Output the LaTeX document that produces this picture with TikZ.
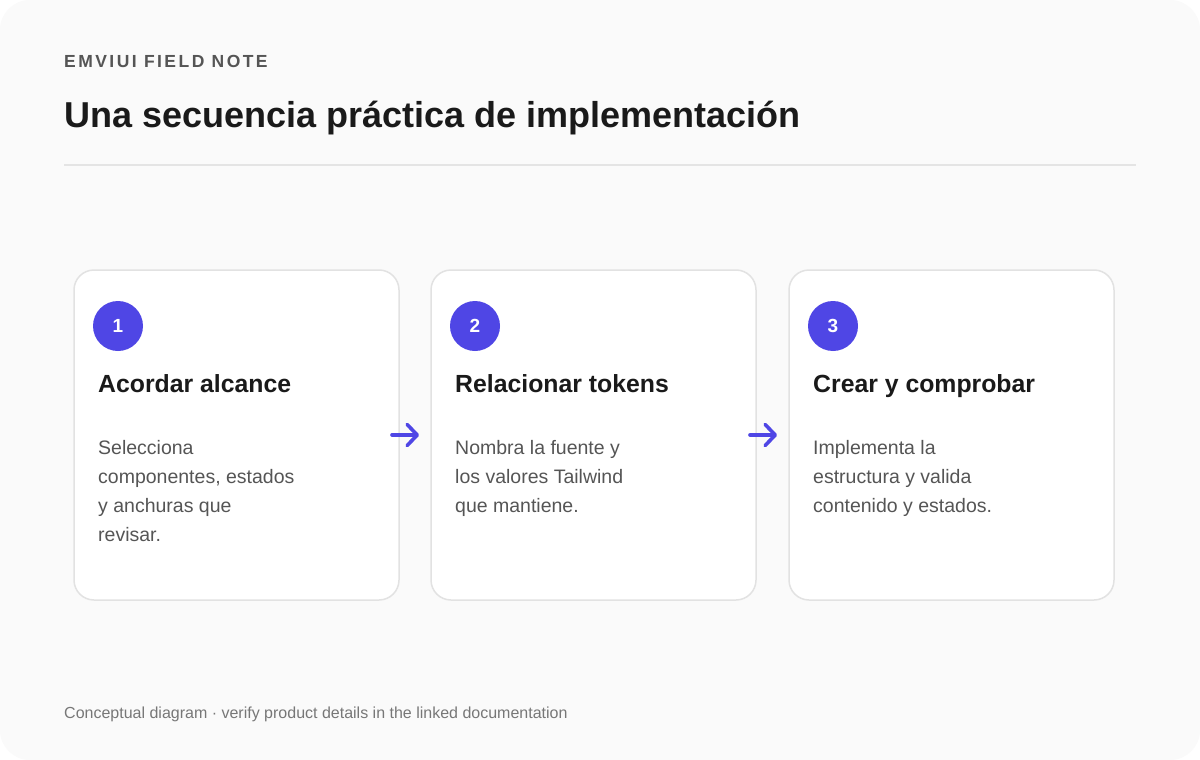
\documentclass[tikz,border=0pt]{standalone}
\usepackage{fontspec}
\setmainfont{Liberation Sans}
\newfontfamily\spacedfont[LetterSpace=14]{Liberation Sans}
\usetikzlibrary{arrows.meta}
\definecolor{pagebg}{HTML}{FAFAFA}
\definecolor{cardline}{HTML}{E2E2E2}
\definecolor{rulecol}{HTML}{E4E4E4}
\definecolor{indigo}{HTML}{4F46E5}
\definecolor{titlecol}{HTML}{1A1A1A}
\definecolor{labelcol}{HTML}{555555}
\definecolor{bodycol}{HTML}{555555}
\definecolor{footcol}{HTML}{777777}
\tikzset{
  card/.style={draw=cardline, line width=1.5pt, fill=white, rounded corners=20pt},
  badge/.style={circle, fill=indigo, minimum size=50pt, inner sep=0pt, text=white, font=\fontsize{19}{19}\selectfont\bfseries},
  cardtitle/.style={anchor=base west, inner sep=0pt, text=titlecol, font=\fontsize{24.8}{24.8}\selectfont\bfseries},
  cardbody/.style={anchor=north west, inner sep=0pt, text=bodycol, align=left, font=\fontsize{19.5}{29}\selectfont},
  flow/.style={draw=indigo, line width=3.6pt, line cap=round, -{Straight Barb[length=10pt,width=21pt,line cap=round,line join=round]}},
}
\begin{document}
\begin{tikzpicture}[x=1pt,y=-1pt]
\useasboundingbox (0,0) rectangle (1200,760);
\fill[white] (0,0) rectangle (1200,760);
\fill[pagebg, rounded corners=30pt] (0,0) rectangle (1200,760);

\node[anchor=base west, inner sep=0pt, text=labelcol, font=\fontsize{17.5}{17.5}\spacedfont\bfseries] (kicker) at (64,68) {EMVIUI FIELD NOTE};
\node[anchor=base west, inner sep=0pt, text=titlecol, font=\fontsize{36}{36}\selectfont\bfseries] (title) at (64,127) {Una secuencia práctica de implementación};
\draw[rulecol, line width=2pt] (64,165) coordinate (r1) -- (1136,165) coordinate (r2);

% cards
\draw[card] (74,270) rectangle (399,600);
\draw[card] (431,270) rectangle (756,600);
\draw[card] (789,270) rectangle (1114,600);

% badges
\node[badge] (b1) at (118,326) {1};
\node[badge] (b2) at (475,326) {2};
\node[badge] (b3) at (833,326) {3};

% titles
\node[cardtitle] (t1) at (98,392) {Acordar alcance};
\node[cardtitle] (t2) at (455,392) {Relacionar tokens};
\node[cardtitle] (t3) at (813,392) {Crear y comprobar};

% bodies (first baseline at 454)
\node[cardbody] (d1) at (98,433.7) {\strut Selecciona\\componentes, estados\\y anchuras que\\revisar.};
\node[cardbody] (d2) at (455,433.7) {\strut Nombra la fuente y\\los valores Tailwind\\que mantiene.};
\node[cardbody] (d3) at (813,433.7) {\strut Implementa la\\estructura y valida\\contenido y estados.};

% arrows
\coordinate (a1s) at (392,435);
\coordinate (a1e) at (419,435);
\coordinate (a2s) at (750,435);
\coordinate (a2e) at (777,435);
\draw[flow] (a1s) -- (a1e);
\draw[flow] (a2s) -- (a2e);

\node[anchor=base west, inner sep=0pt, text=footcol, font=\fontsize{16}{16}\selectfont] (foot) at (64,718) {Conceptual diagram · verify product details in the linked documentation};
\end{tikzpicture}
\end{document}
